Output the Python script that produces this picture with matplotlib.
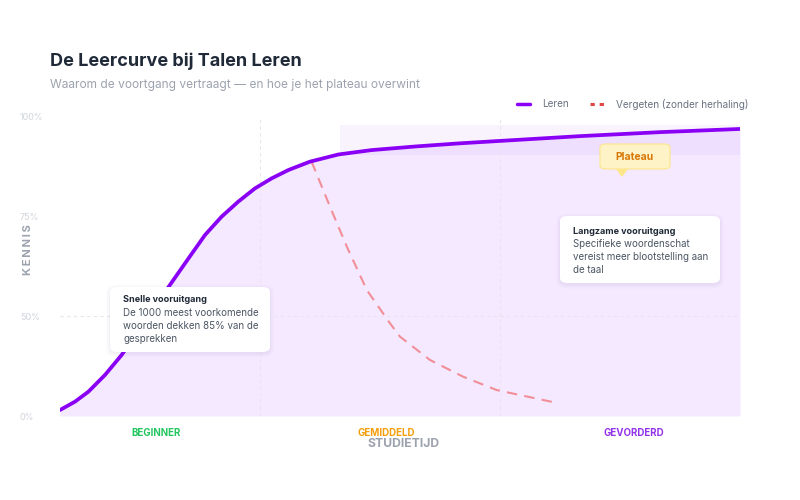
import numpy as np
import matplotlib
matplotlib.use("Agg")
import matplotlib.pyplot as plt
from matplotlib.patches import FancyBboxPatch, Polygon
from matplotlib.lines import Line2D

plt.rcParams['font.family'] = ['Inter', 'DejaVu Sans']

# ---- data ----
learn_x = [0, 0.375, 0.71, 1.125, 1.54, 2.15, 2.75, 3.21, 3.625, 4.04, 4.46, 4.875, 5.29, 5.71,
           6.25, 6.96, 7.79, 8.875, 10, 11, 12, 13, 14, 15, 16, 17]
learn_y = [3.0, 7.2, 12.2, 20.6, 30.6, 48.2, 57.9, 64.5, 70.4, 75.0, 78.8, 82.1, 84.6, 86.7,
           88.8, 90.6, 91.7, 92.6, 93.4, 94.0, 94.6, 95.2, 95.7, 96.2, 96.6, 97.0]
forget_x = [6.29, 6.75, 7.17, 7.67, 8.25, 8.5, 9.25, 10.08, 10.92, 12.46]
forget_y = [88.8, 77.5, 67.5, 56.6, 46.5, 39.8, 28.1, 19.7, 13.0, 6.4]
plateau_x = [7, 17]
plateau_y = [90.5, 98.0]
phase_bounds = [5, 11]
y_ticks = [0, 50, 75, 100]
y_labels = ["0%", "50%", "75%", "100%"]
phase_labels = ["BEGINNER", "GEMIDDELD", "GEVORDERD"]
phase_colors = ["#22c55e", "#f59e0b", "#9333ea"]

W, H = 800, 500
fig = plt.figure(figsize=(8, 5), dpi=100)
fig.patch.set_facecolor("white")

def P(x, y):
    return (x / W, 1 - y / H)

ax = fig.add_axes([60 / W, 1 - 416 / H, 680 / W, 299 / H])
ax.set_facecolor("none")

def fwd(y):
    y = np.asarray(y, float)
    return np.where(y <= 50, y / 150.0, 1 / 3 + (y - 50) / 75.0)

def inv(t):
    t = np.asarray(t, float)
    return np.where(t <= 1 / 3, t * 150.0, 50 + (t - 1 / 3) * 75.0)

ax.set_yscale("function", functions=(fwd, inv))
ax.set_xlim(0, 17)
ax.set_ylim(0, 100)

for s in ax.spines.values():
    s.set_visible(False)
ax.set_xticks([])
ax.set_yticks(y_ticks)
ax.set_yticklabels(y_labels)
ax.yaxis.set_minor_locator(matplotlib.ticker.NullLocator())
ax.tick_params(axis="y", length=0, pad=28.8, labelsize=6.5, labelcolor="#d1d5db")
for lab in ax.get_yticklabels():
    lab.set_horizontalalignment("left")

# area under curve
ax.fill_between(learn_x, 0, learn_y, color="#8b00ff", alpha=0.085, lw=0, zorder=1)
# plateau band
ax.fill_between(plateau_x, plateau_y[0], plateau_y[1], color="#c084fc", alpha=0.09, lw=0, zorder=1.5)

# grid
for xb in phase_bounds:
    ax.axvline(xb, color="#ebe4f0", lw=0.8, dashes=(3, 3), zorder=2)
ax.axhline(50, color="#ebe4f0", lw=0.8, dashes=(3, 3), zorder=2)

# lines
ax.plot(forget_x, forget_y, color="#ef4444", alpha=0.55, lw=1.5, dashes=(5, 3.5), zorder=3,
        solid_joinstyle="round", dash_joinstyle="round")
ax.plot(learn_x, learn_y, color="#8a00f5", lw=2.7, solid_capstyle="round",
        solid_joinstyle="round", zorder=4)

# title
fig.text(*P(50, 61), "De Leercurve bij Talen Leren", fontsize=13, fontweight="bold",
         color="#1f2937", va="center", ha="left")
fig.text(*P(50, 85), "Waarom de voortgang vertraagt — en hoe je het plateau overwint",
         fontsize=8.6, color="#9ca3af", va="center", ha="left")

# legend
fig.add_artist(Line2D([517 / W, 530 / W], [1 - 104 / H] * 2, color="#8a00f5", lw=2.5,
                      solid_capstyle="round"))
fig.text(*P(542, 104), "Leren", fontsize=7.2, color="#6b7280", va="center", ha="left")
fig.add_artist(Line2D([590 / W, 607 / W], [1 - 104 / H] * 2, color="#e04848", lw=2.2,
                      dashes=(1.4, 1.6)))
fig.text(*P(616, 104), "Vergeten (zonder herhaling)", fontsize=7.2, color="#6b7280",
         va="center", ha="left")

# axis titles
fig.text(*P(28, 250), "K\u2009E\u2009N\u2009N\u2009I\u2009S", fontsize=8, fontweight="bold",
         color="#9ca3af", rotation=90, va="center", ha="center")
fig.text(*P(404, 444), "STUDIETIJD", fontsize=8.8, fontweight="bold", color="#9ca3af",
         va="center", ha="center")
for lab, col, cx in zip(phase_labels, phase_colors, [156, 386, 634]):
    fig.text(*P(cx, 433), lab, fontsize=7, fontweight="bold", color=col,
             va="center", ha="center")

# annotation boxes
def card(x0, y0, x1, y1, fc="white", ec="none", shadow=True, r=8):
    if shadow:
        for i, a in enumerate([0.03, 0.02, 0.012]):
            d = 1 + i * 1.5
            sh = FancyBboxPatch((x0 / W - d / W, 1 - (y1 + 1.5) / H - d / H),
                                (x1 - x0) / W + 2 * d / W, (y1 - y0) / H + 2 * d / H,
                                boxstyle=f"round,pad=0,rounding_size={(r + d) / W}",
                                transform=fig.transFigure, fc="#4c1d95", ec="none",
                                alpha=a, zorder=5)
            fig.add_artist(sh)
    b = FancyBboxPatch((x0 / W, 1 - y1 / H), (x1 - x0) / W, (y1 - y0) / H,
                       boxstyle=f"round,pad=0,rounding_size={r / W}",
                       transform=fig.transFigure, fc=fc, ec=ec, lw=0.8, zorder=6)
    fig.add_artist(b)

card(110, 287, 270, 352)
fig.text(*P(123, 300), "Snelle vooruitgang", fontsize=6.5, fontweight="bold",
         color="#1f2937", va="center", ha="left", zorder=7)
for i, line in enumerate(["De 1000 meest voorkomende", "woorden dekken 85% van de", "gesprekken"]):
    fig.text(*P(123, 313 + 13 * i), line, fontsize=7, color="#4b5563",
             va="center", ha="left", zorder=7)

card(560, 216, 720, 283)
fig.text(*P(573, 231), "Langzame vooruitgang", fontsize=6.5, fontweight="bold",
         color="#1f2937", va="center", ha="left", zorder=7)
for i, line in enumerate(["Specifieke woordenschat", "vereist meer blootstelling aan", "de taal"]):
    fig.text(*P(573, 244 + 13 * i), line, fontsize=7, color="#4b5563",
             va="center", ha="left", zorder=7)

# plateau tag
card(600, 144, 670, 169, fc="#fef3c7", ec="#fde68a", shadow=False, r=6)
tri = Polygon([P(616, 169), P(628, 169), P(622, 177)], closed=True,
              transform=fig.transFigure, fc="#fde68a", ec="none", zorder=6)
fig.add_artist(tri)
fig.text(*P(635, 157), "Plateau", fontsize=7.5, fontweight="bold", color="#d97706",
         va="center", ha="center", zorder=7)

fig.savefig("out.png", dpi=100, facecolor="white")
